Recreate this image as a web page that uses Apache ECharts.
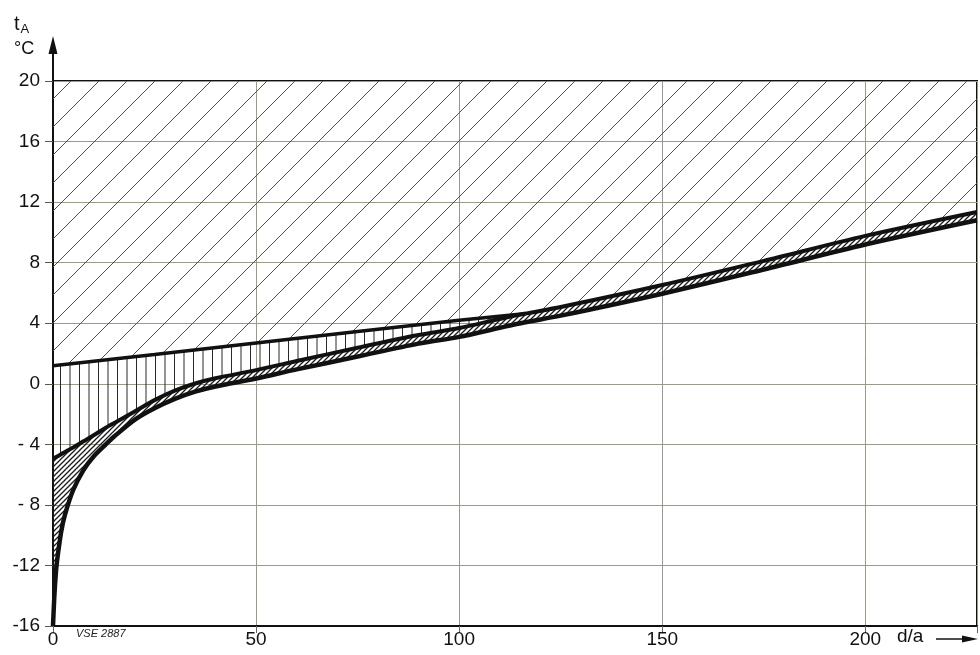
<!DOCTYPE html>
<html>
<head>
<meta charset="utf-8">
<script src="https://cdn.jsdelivr.net/npm/echarts@6/dist/echarts.min.js"></script>
<style>
html,body{margin:0;padding:0;background:#fff;}
#chart{width:980px;height:655px;}
</style>
</head>
<body>
<div id="chart"></div>
<script>
// ---- data ----
const xs      = [0, 0.3, 0.7, 1, 2, 3, 5, 7.5, 10, 13, 15, 20, 25, 30, 35, 40, 50, 60, 75, 90, 100, 110, 116, 125, 150, 175, 200, 227.5];
const lowerB  = [-16, -14.2, -12.5, -11.7, -9.8, -8.6, -7.0, -5.7, -4.8, -4.0, -3.5, -2.4, -1.62, -1.0, -0.52, -0.18, 0.35, 0.95, 1.8, 2.65, 3.1, 3.7, 4.05, 4.5, 5.95, 7.55, 9.2, 10.8];
const middleA = [-4.93, -4.9, -4.85, -4.8, -4.65, -4.5, -4.2, -3.8, -3.4, -2.9, -2.6, -1.85, -1.08, -0.45, 0.02, 0.36, 0.9, 1.5, 2.38, 3.22, 3.68, 4.28, 4.62, 5.07, 6.52, 8.12, 9.77, 11.35];
const upperX  = [0, 25, 50, 75, 100, 116];
const upperU  = [1.19, 1.94, 2.7, 3.45, 4.2, 4.62];
const ceiling = 20;
const yTicks  = [-16, -12, -8, -4, 0, 4, 8, 12, 16, 20];
const xTicks  = [0, 50, 100, 150, 200];

// ---- hatch patterns ----
function pattern(w, h, draw) {
  const c = document.createElement('canvas');
  c.width = w; c.height = h;
  const g = c.getContext('2d');
  draw(g);
  return { image: c, repeat: 'repeat' };
}
const wideDiag = pattern(28, 28, g => {
  g.strokeStyle = '#505050'; g.lineWidth = 1;
  g.beginPath();
  g.moveTo(-2, 14); g.lineTo(14, -2);
  g.moveTo(10, 30); g.lineTo(30, 10);
  g.stroke();
});
const vertHatch = pattern(19, 19, g => {
  g.strokeStyle = '#2a2a2a'; g.lineWidth = 1;
  g.beginPath();
  g.moveTo(3.5, 0); g.lineTo(3.5, 19);
  g.moveTo(13, 0); g.lineTo(13, 19);
  g.stroke();
});
const fineDiag = pattern(5, 5, g => {
  g.strokeStyle = '#1a1a1a'; g.lineWidth = 1.3;
  g.beginPath();
  g.moveTo(-1, 6); g.lineTo(6, -1);
  g.moveTo(-1, 1); g.lineTo(1, -1);
  g.moveTo(4, 6); g.lineTo(6, 4);
  g.stroke();
});

const pairs = (xArr, yArr) => xArr.map((x, i) => [x, yArr[i]]);
const curveB = pairs(xs, lowerB);
const curveA = pairs(xs, middleA);
const curveU = pairs(upperX, upperU);
const crossX = upperX[upperX.length - 1];

// hatched regions: polygons whose vertices go through the axes' own scales
function regionSeries(name, fill, buildPts) {
  return {
    type: 'custom', name: name, z: 2, silent: true, animation: false,
    data: [0],
    renderItem: function (params, api) {
      const pts = buildPts().map(p => api.coord(p));
      return { type: 'polygon', shape: { points: pts }, style: { fill: fill, stroke: null } };
    }
  };
}
const aFromCross = curveA.filter(p => p[0] >= crossX);

const FONT = "'Liberation Sans', Arial, sans-serif";
const chart = echarts.init(document.getElementById('chart'), null, { renderer: 'canvas' });
const lineCommon = { type: 'line', symbol: 'none', smooth: 0.3, animation: false, z: 5, silent: true };

chart.setOption({
  backgroundColor: '#ffffff',
  animation: false,
  grid: { left: 53, right: 3, top: 81, bottom: 29, show: true, borderColor: '#111', borderWidth: 2, backgroundColor: 'transparent' },
  xAxis: {
    type: 'value', min: 0, max: 227.5, interval: 50,
    axisLine: { onZero: false, lineStyle: { color: '#111', width: 2 } },
    axisTick: { show: true, length: 7, lineStyle: { color: '#666', width: 1 } },
    axisLabel: { color: '#111', fontSize: 19, fontFamily: FONT, margin: 4,
      formatter: v => xTicks.indexOf(v) >= 0 ? String(v) : '' },
    splitLine: { show: true, lineStyle: { color: '#9a9a88', width: 1 } }
  },
  yAxis: {
    type: 'value', min: -16, max: 20, interval: 4,
    axisLine: { show: true, onZero: false, lineStyle: { color: '#111', width: 2 } },
    axisTick: { show: true, length: 8, lineStyle: { color: '#555', width: 1 } },
    axisLabel: { color: '#111', fontSize: 19, fontFamily: FONT, margin: 13,
      formatter: v => yTicks.indexOf(v) < 0 ? '' : (v < 0 && v > -10 ? '- ' + Math.abs(v) : String(v)) },
    splitLine: { show: true, lineStyle: { color: '#9a9a88', width: 1 } }
  },
  series: [
    regionSeries('bandAB', fineDiag, () => curveA.concat(curveB.slice().reverse())),
    regionSeries('bandUA', vertHatch, () => curveU.concat(curveA.filter(p => p[0] <= crossX).reverse())),
    regionSeries('top', wideDiag, () => curveU.concat(aFromCross.slice(1)).concat([[xs[xs.length - 1], ceiling], [0, ceiling]])),
    Object.assign({}, lineCommon, { name: 'B', data: curveB, lineStyle: { color: '#111', width: 4.5 } }),
    Object.assign({}, lineCommon, { name: 'A', data: curveA, lineStyle: { color: '#111', width: 4 } }),
    Object.assign({}, lineCommon, { name: 'U', data: curveU, smooth: false, lineStyle: { color: '#111', width: 3.5 } })
  ],
  graphic: [
    { type: 'line', shape: { x1: 53, y1: 81, x2: 53, y2: 50 }, style: { stroke: '#111', lineWidth: 2 } },
    { type: 'polygon', shape: { points: [[48.5, 54], [57.5, 54], [53, 36]] }, style: { fill: '#111' } },
    { type: 'text', left: 14, top: 14, style: { text: '{t|t}{s|A}', fontFamily: FONT,
        rich: { t: { fontSize: 20, fill: '#111', fontFamily: FONT }, s: { fontSize: 13, fill: '#111', fontFamily: FONT, padding: [10, 0, 0, 1] } } } },
    { type: 'text', left: 14, top: 40, style: { text: '°C', fontSize: 18, fill: '#111', fontFamily: FONT } },
    { type: 'text', left: 897, top: 627, style: { text: 'd/a', fontSize: 19, fill: '#111', fontFamily: FONT } },
    { type: 'line', shape: { x1: 936, y1: 639, x2: 966, y2: 639 }, style: { stroke: '#111', lineWidth: 1.5 } },
    { type: 'polygon', shape: { points: [[962, 635.5], [978, 639], [962, 642.5]] }, style: { fill: '#111' } },
    { type: 'text', left: 76, top: 628, style: { text: 'VSE 2887', fontSize: 11, fontStyle: 'italic', fill: '#222', fontFamily: FONT } }
  ]
});
</script>
</body>
</html>
